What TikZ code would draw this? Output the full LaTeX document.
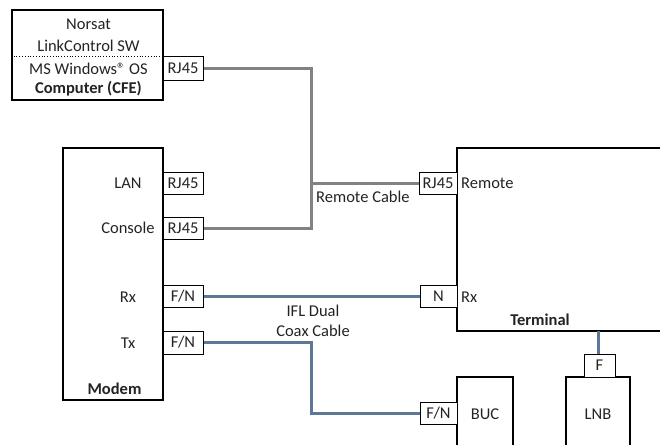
\documentclass[tikz,border=0pt]{standalone}
\usepackage{fontspec}
\setmainfont{Carlito}
\definecolor{cablegray}{RGB}{130,130,130}
\definecolor{cableblue}{RGB}{92,120,150}
\definecolor{txt}{RGB}{35,35,35}
\begin{document}
\begin{tikzpicture}[x=1pt,y=-1pt,
  every node/.style={font=\fontsize{16.5}{19}\selectfont, text=txt},
  bigbox/.style={draw=black, line width=2.4pt, inner sep=0pt},
  port/.style={draw=black, line width=1pt, inner sep=0pt, fill=white},
  lbl/.style={inner sep=0pt},
  graycable/.style={draw=cablegray, line width=3pt},
  bluecable/.style={draw=cableblue, line width=3pt}]
\useasboundingbox (0,0) rectangle (660,444);
\clip (0,0) rectangle (660,444);
% Computer
\node[bigbox, minimum width=151pt, minimum height=90pt] (cfe) at (87.5,55) {};
\draw[line width=0.8pt, dotted] (cfe.west |- 0,56) -- (cfe.east |- 0,56);
\node[lbl] (t1) at (88.5,24) {Norsat};
\node[lbl] (t2) at (88.5,46) {LinkControl SW};
\node[lbl] (t3) at (88.5,69) {MS Windows® OS};
\node[lbl] (t4) at (88.5,89) {\bfseries Computer (CFE)};
\node[port, minimum width=40pt, minimum height=24pt] (pc) at (183,68) {RJ45};
% Modem
\node[bigbox, minimum width=100pt, minimum height=252pt] (modem) at (113,274) {};
\node[lbl] (mlan) at (128,183) {LAN};
\node[lbl] (mcon) at (128,228) {Console};
\node[lbl] (mrx) at (128,297) {Rx};
\node[lbl] (mtx) at (128,343) {Tx};
\node[lbl] (mname) at (114.5,389) {\bfseries Modem};
\node[port, minimum width=40pt, minimum height=22pt] (plan) at (183,183) {RJ45};
\node[port, minimum width=40pt, minimum height=22pt] (pcon) at (183,228) {RJ45};
\node[port, minimum width=40pt, minimum height=22pt] (prx) at (183,296) {F/N};
\node[port, minimum width=40pt, minimum height=23pt] (ptx) at (183,342.5) {F/N};
% Terminal
\draw[line width=2.4pt] (680,148) -- (457,148) -- (457,331) -- (680,331);
\node[lbl, anchor=west] (trem) at (461,183) {Remote};
\node[lbl, anchor=west] (trx) at (461,297) {Rx};
\node[lbl] (tname) at (540,320) {\bfseries Terminal};
\node[port, minimum width=38pt, minimum height=22pt] (trj) at (438,183) {RJ45};
\node[port, minimum width=37pt, minimum height=22pt] (tn) at (438.5,296) {N};
% BUC and LNB
\draw[line width=2.4pt] (457,460) -- (457,377) -- (513,377) -- (513,460);
\draw[line width=2.4pt] (566,460) -- (566,377) -- (630,377) -- (630,460);
\node[lbl] (buc) at (485,414) {BUC};
\node[lbl] (lnb) at (598,414) {LNB};
\node[port, minimum width=37pt, minimum height=22pt] (bfn) at (438.5,413) {F/N};
\node[port, minimum width=31pt, minimum height=23pt] (pf) at (599.5,365.5) {F};
% Cables
\coordinate (j1) at (311,68);
\coordinate (j2) at (311,183);
\coordinate (j3) at (311,228);
\draw[graycable] (pc.east) -- (j1) -- (j3) -- (pcon.east);
\draw[graycable] (j2) -- (trj.west);
\node[lbl, anchor=north west] (rc) at (316,191) {Remote Cable};
\draw[bluecable] (prx.east) -- (tn.west);
\coordinate (j4) at (311,342.5);
\coordinate (j5) at (311,413);
\draw[bluecable] (ptx.east) -- (j4) -- (j5) -- (bfn.west);
\coordinate (tb) at (598,331);
\draw[bluecable] (tb) -- (pf.north -| tb);
\node[lbl, align=center, font=\fontsize{16.5}{20}\selectfont] (ifl) at (313,321) {IFL Dual\\Coax Cable};
\end{tikzpicture}
\end{document}
